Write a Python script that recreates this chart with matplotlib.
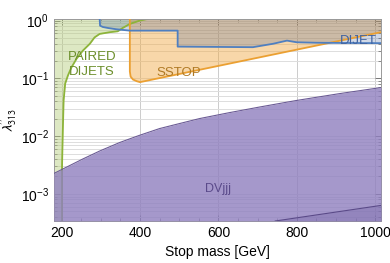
import numpy as np
import matplotlib
matplotlib.use("Agg")
import matplotlib.pyplot as plt
from matplotlib.ticker import MultipleLocator, LogLocator, NullFormatter

plt.rcParams["font.family"] = ["Liberation Sans", "DejaVu Sans"]
plt.rcParams["mathtext.fontset"] = "stixsans"

# ---- data (mass in GeV, log10 of coupling lambda'') ----
XMIN, XMAX = 180, 1015
YMIN, YMAX = 3.4e-4, 1.07

# paired dijets: excluded to the left of the curve
paired_m = [201, 201, 202, 203, 205, 209, 216, 225, 238, 254, 272, 284, 297, 323, 343,
            356, 374, 399, 420]
paired_log = [-3.47, -2.5, -2.2, -1.9, -1.38, -1.09, -0.95, -0.81, -0.66, -0.52, -0.40,
              -0.29, -0.23, -0.20, -0.185, -0.126, -0.057, 0.0, 0.03]

# same-sign stop: excluded above the curve
sstop_m = [374, 374, 376, 382, 392, 400, 1015]
sstop_log = [0.03, -0.88, -0.97, -1.02, -1.05, -1.065, -0.2]

# dijet resonance: excluded above the curve
dijet_m = [297, 298, 305, 317, 340, 374, 496, 496, 688, 740, 775, 800, 850, 902, 1015]
dijet_log = [0.03, -0.087, -0.11, -0.126, -0.15, -0.173, -0.173, -0.45, -0.46, -0.40,
             -0.346, -0.375, -0.383, -0.386, -0.39]

# displaced vertex (DVjjj): excluded below the curve
dv_m = [180, 203, 254, 297, 348, 397, 450, 501, 552, 629, 706, 798, 910, 1015]
dv_log = [-2.647, -2.569, -2.396, -2.258, -2.111, -1.990, -1.869, -1.782, -1.696, -1.592,
          -1.495, -1.384, -1.263, -1.159]

# second, lower displaced-vertex band
dv2_m = [745, 1015]
dv2_log = [-3.47, -3.2]

paired_lam = 10.0 ** np.array(paired_log)
sstop_lam = 10.0 ** np.array(sstop_log)
dijet_lam = 10.0 ** np.array(dijet_log)
dv_lam = 10.0 ** np.array(dv_log)
dv2_lam = 10.0 ** np.array(dv2_log)

fig = plt.figure(figsize=(3.9, 2.63), dpi=100)
ax = fig.add_axes([0.138, 0.160, 0.839, 0.768])
ax.set_yscale("log")

# fills
ax.fill_betweenx(paired_lam, XMIN, paired_m, color="#b5cc7a", alpha=0.45, lw=0, zorder=2)
ax.fill(list(sstop_m) + [XMAX], list(sstop_lam) + [YMAX], color="#f0a840", alpha=0.45,
        lw=0, zorder=2)
ax.fill(list(dijet_m) + [XMAX], list(dijet_lam) + [YMAX], color="#46649f", alpha=0.25,
        lw=0, zorder=2)
ax.fill_between(dv_m, YMIN, dv_lam, color="#8f7fbf", alpha=0.8, lw=0, zorder=3)
ax.fill_between(dv2_m, YMIN, dv2_lam, color="#6a5a9e", alpha=0.3, lw=0, zorder=3)

# boundaries
ax.plot(paired_m, paired_lam, color="#8db43a", lw=1.3, zorder=2.5)
ax.plot(sstop_m, sstop_lam, color="#eba032", lw=1.3, zorder=4)
ax.plot(dijet_m, dijet_lam, color="#4f7fc0", lw=1.3, zorder=4)
ax.plot(dv_m, dv_lam, color="#6b5b95", lw=0.8, zorder=4)
ax.plot(dv2_m, dv2_lam, color="#5a4a88", lw=0.8, zorder=4)

# labels inside
ax.text(277, 10**-0.76, "PAIRED\nDIJETS", color="#6b8e2a", fontsize=9.5, ha="center",
        va="center", linespacing=1.35, zorder=5)
ax.text(500, 10**-0.9, "SSTOP", color="#b07a25", fontsize=9.5, ha="center", va="center",
        zorder=5)
ax.text(957, 10**-0.35, "DIJET", color="#3f62a0", fontsize=9.5, ha="center", va="center",
        zorder=5)
ax.text(600, 10**-2.91, "DVjjj", color="#5a4a8a", fontsize=9, ha="center", va="center",
        zorder=5)

ax.set_xlim(XMIN, XMAX)
ax.set_ylim(YMIN, YMAX)
ax.xaxis.set_major_locator(MultipleLocator(200))
ax.xaxis.set_minor_locator(MultipleLocator(50))
ax.yaxis.set_major_locator(LogLocator(base=10, numticks=10))
ax.yaxis.set_minor_locator(LogLocator(base=10, subs=np.arange(2, 10), numticks=20))
ax.yaxis.set_minor_formatter(NullFormatter())
ax.tick_params(which="both", direction="in", top=True, right=True, labelsize=10,
               color="#666666")
ax.tick_params(which="major", length=4, width=0.6)
ax.tick_params(which="minor", length=2, width=0.5)
ax.grid(True, which="major", axis="x", color="#cccccc", lw=0.7, zorder=1)
ax.grid(True, which="both", axis="y", color="#dddddd", lw=0.7, zorder=1)
ax.set_axisbelow(True)
for s in ax.spines.values():
    s.set_color("#999999")
    s.set_linewidth(0.7)

ax.set_xlabel("Stop mass [GeV]", fontsize=10)
ax.set_ylabel(r"$\lambda^{\prime\prime}_{313}$", fontsize=10, labelpad=1)

fig.savefig("out.png", dpi=100)
